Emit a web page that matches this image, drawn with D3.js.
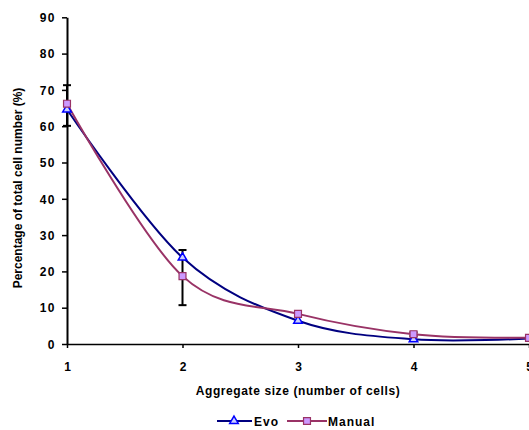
<!DOCTYPE html>
<html><head><meta charset="utf-8">
<script src="https://cdn.jsdelivr.net/npm/d3@7"></script>
<style>body{margin:0;background:#fff;} text{font-family:"Liberation Sans",Arial,sans-serif;font-weight:bold;}</style>
</head><body>
<svg id="c" width="529" height="430"></svg>
<script>
const sizes = [1, 2, 3, 4, 5];
const evo = [64.6, 23.8, 6.4, 1.3, 1.5];
const manual = [66.2, 18.7, 8.3, 2.7, 1.7];
const errLow = [60.1, 10.7, 7.8, 2.2, 1.7];
const errHigh = [71.3, 25.9, 8.9, 3.2, 1.7];
const yTicks = [0, 10, 20, 30, 40, 50, 60, 70, 80, 90];
const xTicks = [1, 2, 3, 4, 5];
const seriesNames = ["Evo", "Manual"];

const svg = d3.select("#c");
const x = d3.scaleLinear().domain([1, 5]).range([67, 529]);
const y = d3.scaleLinear().domain([0, 90]).range([344, 17.3]);

// axes
const yAxis = d3.axisLeft(y).tickValues(yTicks).tickFormat(d3.format("d")).tickSize(5).tickSizeOuter(0).tickPadding(6);
const gy = svg.append("g").attr("transform", "translate(67,0)").call(yAxis);
gy.select(".domain").attr("stroke", "#000").attr("stroke-width", 2);
gy.selectAll(".tick line").attr("stroke", "#000").attr("stroke-width", 1.5);
gy.selectAll(".tick text").attr("font-size", 12).attr("fill", "#000").style("letter-spacing", "1.5px").attr("dy", "0.35em");

const xAxis = d3.axisBottom(x).tickValues(xTicks).tickFormat(d3.format("d")).tickSize(4).tickSizeOuter(0).tickPadding(14);
const gx = svg.append("g").attr("transform", "translate(0,344)").call(xAxis);
gx.select(".domain").attr("stroke", "#000").attr("stroke-width", 1.5);
gx.selectAll(".tick line").attr("stroke", "#000").attr("stroke-width", 1.5);
gx.selectAll(".tick text").attr("font-size", 12).attr("fill", "#000");

svg.append("text").attr("x", 298).attr("y", 395).attr("text-anchor", "middle")
  .attr("font-size", 12).style("letter-spacing", "0.6px").text("Aggregate size (number of cells)");
svg.append("text").attr("transform", "translate(22,188) rotate(-90)").attr("text-anchor", "middle")
  .attr("font-size", 12).text("Percentage of total cell number (%)");

// error bars
const eb = svg.append("g");
sizes.forEach((s, i) => {
  if (errHigh[i] - errLow[i] < 0.01) return;
  eb.append("line").attr("x1", x(s)).attr("x2", x(s)).attr("y1", y(errLow[i])).attr("y2", y(errHigh[i]))
    .attr("stroke", "#000").attr("stroke-width", 2);
  [errLow[i], errHigh[i]].forEach(v => {
    eb.append("line").attr("x1", x(s) - 4).attr("x2", x(s) + 4).attr("y1", y(v)).attr("y2", y(v))
      .attr("stroke", "#000").attr("stroke-width", 2);
  });
});

const line = d3.line().x(d => x(d[0])).y(d => y(d[1])).curve(d3.curveCardinal.tension(0));
const evoPts = sizes.map((s, i) => [s, evo[i]]);
const manPts = sizes.map((s, i) => [s, manual[i]]);

svg.append("path").attr("d", line(evoPts)).attr("fill", "none").attr("stroke", "#000080").attr("stroke-width", 2);
svg.append("path").attr("d", line(manPts)).attr("fill", "none").attr("stroke", "#993366").attr("stroke-width", 2);

const tri = d3.symbol().type(d3.symbolTriangle).size(32);
const sq = d3.symbol().type(d3.symbolSquare).size(48);
svg.append("g").selectAll("path").data(evoPts.slice(0, 4)).join("path")
  .attr("d", tri).attr("transform", d => `translate(${x(d[0])},${y(d[1])})`)
  .attr("fill", "#ccd0ff").attr("stroke", "#0000ff").attr("stroke-width", 1.5);
svg.append("g").selectAll("path").data(manPts).join("path")
  .attr("d", sq).attr("transform", d => `translate(${x(d[0])},${y(d[1])})`)
  .attr("fill", "#cc99ff").attr("stroke", "#993366").attr("stroke-width", 1.2);

// legend
const lg = svg.append("g");
lg.append("line").attr("x1", 217).attr("x2", 252).attr("y1", 421).attr("y2", 421).attr("stroke", "#000080").attr("stroke-width", 2);
lg.append("path").attr("d", tri).attr("transform", "translate(234,421)").attr("fill", "#ccd0ff").attr("stroke", "#0000ff").attr("stroke-width", 1.5);
lg.append("text").attr("x", 254).attr("y", 425.5).attr("font-size", 12).style("letter-spacing", "1px").text(seriesNames[0]);
lg.append("line").attr("x1", 287).attr("x2", 327).attr("y1", 421).attr("y2", 421).attr("stroke", "#993366").attr("stroke-width", 2);
lg.append("path").attr("d", sq).attr("transform", "translate(307,421)").attr("fill", "#cc99ff").attr("stroke", "#993366").attr("stroke-width", 1.2);
lg.append("text").attr("x", 328).attr("y", 425.5).attr("font-size", 12).style("letter-spacing", "1px").text(seriesNames[1]);
</script>
</body></html>
